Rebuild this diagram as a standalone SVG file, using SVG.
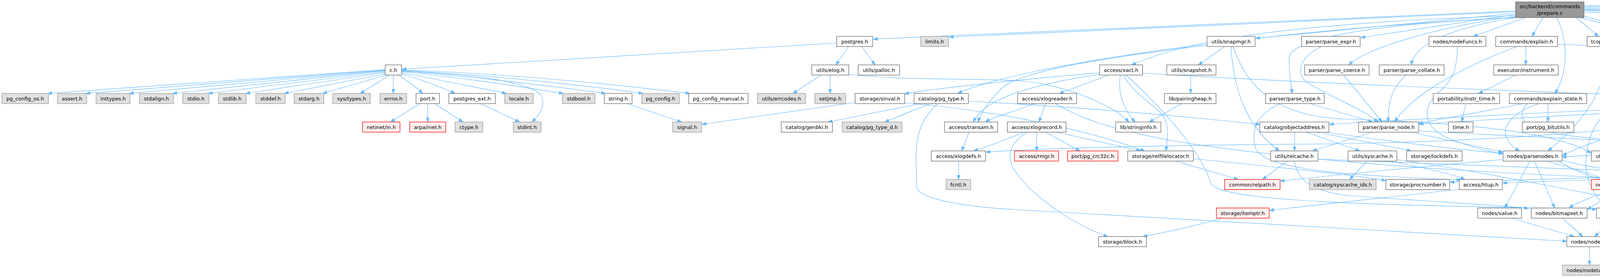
<svg xmlns="http://www.w3.org/2000/svg" width="6271" height="711" viewBox="0 0 6271 711">
<defs>
<style>
rect.w{fill:#ffffff;stroke:#666666;stroke-width:1.3}
rect.g{fill:#e0e0e0;stroke:#999999;stroke-width:1.3}
rect.r{fill:#fff0f0;stroke:#ff0000;stroke-width:1.3}
rect.root{fill:#999999;stroke:#666666;stroke-width:1.3}
text{font-family:"DejaVu Sans","Liberation Sans",sans-serif;font-size:13px;fill:#000000;text-anchor:middle}
#edges path{fill:none;stroke:#63b8ff;stroke-width:1.2;marker-end:url(#arr)}
</style>
<marker id="arr" markerUnits="userSpaceOnUse" markerWidth="12" markerHeight="10" refX="11" refY="4.5" orient="auto">
<path d="M0,0.5 L11,4.5 L0,8.5 z" fill="#63b8ff" stroke="#63b8ff" stroke-width="1"/>
</marker>
</defs>
<rect x="0" y="0" width="6271" height="711" fill="#ffffff"/>
<g id="edges">
<path d="M986,178 L122,239"/>
<path d="M986,179 L220,239"/>
<path d="M986,180 L331,239"/>
<path d="M986,181 L442,239"/>
<path d="M987,183 L533,239"/>
<path d="M988,185 L629,239"/>
<path d="M990,188 L728,239"/>
<path d="M993,191 L826,239"/>
<path d="M998,192 L922,239"/>
<path d="M1007,192 L1007,239"/>
<path d="M1020,192 C1040,205 1065,222 1082,239"/>
<path d="M1028,188 C1080,205 1130,222 1165,239"/>
<path d="M1028,185 C1120,205 1230,225 1296,239"/>
<path d="M1028,182 C1200,190 1340,205 1382,240 C1400,265 1385,290 1362,312"/>
<path d="M1028,183 C1200,200 1350,225 1442,239"/>
<path d="M1028,181 C1250,200 1450,225 1550,239"/>
<path d="M1028,180 C1300,195 1550,225 1646,239"/>
<path d="M1028,179 C1350,190 1650,225 1766,239"/>
<path d="M2142,110 L1029,177"/>
<path d="M2172,119 L2140,166"/>
<path d="M2206,119 L2240,166"/>
<path d="M1075,265 L1000,312"/>
<path d="M1095,265 L1095,312"/>
<path d="M1113,265 L1185,312"/>
<path d="M1230,265 L1330,312"/>
<path d="M1605,265 L1745,312"/>
<path d="M2125,192 L2125,239"/>
<path d="M2102,192 L2030,239"/>
<path d="M2173,190 C2300,205 2450,200 2600,206 C2700,210 2840,260 2890,312"/>
<path d="M2189,262 L1797,318"/>
<path d="M2316,263 C2500,278 2750,320 2930,386"/>
<path d="M2355,265 L2120,312"/>
<path d="M2381,265 L2265,312"/>
<path d="M2479,259 C2800,275 3100,305 3225,318"/>
<path d="M2400,265 C2330,330 2347,400 2347,478 C2347,505 2450,528 2600,536 L4011,617"/>
<path d="M3880,28 L2236,100"/>
<path d="M3880,30 L2430,95"/>
<path d="M3880,34 L3214,98"/>
<path d="M3880,37 L3484,96"/>
<path d="M3905,45 L3772,93"/>
<path d="M3950,45 L3922,93"/>
<path d="M4035,45 C4055,62 4075,78 4092,93"/>
<path d="M4055,41 L4240,93"/>
<path d="M4055,30 L5018,102"/>
<path d="M4055,26 L5148,94"/>
<path d="M4055,23 L5304,93"/>
<path d="M4055,20 L5748,102"/>
<path d="M4055,17 C5000,40 5700,70 5810,90 C5880,110 5920,140 5937,166"/>
<path d="M4055,14 C5200,35 5900,70 6000,100 C6090,140 6120,220 6131,312"/>
<path d="M3880,40 C3300,60 3050,100 2897,166"/>
<path d="M3880,42 C3700,65 3500,120 3453,166"/>
<path d="M3882,45 C3690,75 3620,120 3613,166"/>
<path d="M3880,44 C3200,80 2600,170 2452,239"/>
<path d="M3880,45 C3500,62 3300,100 3300,150 C3300,185 3305,215 3308,239"/>
<path d="M3985,45 C4015,100 4015,190 3980,239"/>
<path d="M4055,25 C4300,30 4440,60 4445,166"/>
<path d="M4045,45 C4300,110 4600,170 4740,239"/>
<path d="M3906,119 L3906,166"/>
<path d="M3882,119 C3700,190 3600,260 3571,312"/>
<path d="M3987,113 C4300,125 4700,160 4877,173"/>
<path d="M3880,192 L3785,239"/>
<path d="M3752,265 L3742,312"/>
<path d="M3963,265 L3963,312"/>
<path d="M3900,265 C3800,285 3680,305 3632,316"/>
<path d="M3940,265 C3860,290 3820,345 3890,386"/>
<path d="M3910,265 C3860,320 3950,345 4100,355 C4300,365 4460,372 4500,386"/>
<path d="M3382,119 C3330,145 3315,185 3345,210 C3400,245 3490,280 3528,312"/>
<path d="M3440,192 L3538,312"/>
<path d="M3600,192 C3560,225 3553,270 3554,312"/>
<path d="M3731,119 C3730,185 3715,205 3690,230 C3640,270 3640,320 3700,350 C3760,375 3810,388 3848,393"/>
<path d="M3135,119 L3068,166"/>
<path d="M3090,116 C2800,150 2600,185 2560,230 C2530,262 2510,290 2504,312"/>
<path d="M3151,119 C3160,250 3200,330 3275,386"/>
<path d="M3157,119 C3200,250 3300,300 3450,305 C3800,315 4000,345 4074,392"/>
<path d="M3048,192 L3048,239"/>
<path d="M3025,265 L2942,312"/>
<path d="M2838,192 L2712,239"/>
<path d="M2868,192 C2860,240 2880,285 2906,312"/>
<path d="M2876,192 C2900,240 2960,270 2980,300 C2995,330 2987,360 2985,386"/>
<path d="M2883,192 C3000,300 3080,400 3100,470 C3130,520 3600,525 4087,535"/>
<path d="M2815,186 C2600,205 2400,225 2316,240"/>
<path d="M2815,190 C2650,215 2520,250 2492,312"/>
<path d="M2925,187 C3300,210 3900,235 4340,248"/>
<path d="M2676,265 L2660,312"/>
<path d="M2647,265 C2600,285 2540,300 2523,312"/>
<path d="M2701,265 C2780,310 2850,330 3000,360 C3500,440 4200,460 4591,468"/>
<path d="M2654,338 L2654,386"/>
<path d="M2677,338 L2765,386"/>
<path d="M2705,338 L2920,386"/>
<path d="M2622,338 C2580,355 2530,375 2492,386"/>
<path d="M2631,338 C2590,360 2570,400 2600,440 C2650,510 2760,580 2836,605"/>
<path d="M2481,338 L2462,386"/>
<path d="M2454,412 L2454,459"/>
<path d="M4877,190 C4600,300 4000,360 3400,368 C2900,372 2650,380 2524,389"/>
<path d="M3010,412 L3170,459"/>
<path d="M3055,406 C3300,430 3480,450 3548,462"/>
<path d="M3295,412 L3232,459"/>
<path d="M3314,412 C3320,460 3360,490 3450,500 C3650,515 3850,525 3913,533"/>
<path d="M3374,407 C3800,425 4400,445 4735,459"/>
<path d="M3314,338 L3314,386"/>
<path d="M3372,338 L3613,386"/>
<path d="M3391,338 C3550,360 3750,385 3847,392"/>
<path d="M3344,338 L3481,386"/>
<path d="M3354,265 L3514,312"/>
<path d="M3277,265 C3220,290 3200,330 3215,380 C3240,440 3500,450 3740,460"/>
<path d="M3514,338 L3360,386"/>
<path d="M3613,338 L3847,389"/>
<path d="M3632,335 C4000,355 4500,375 4698,392"/>
<path d="M3500,412 L3455,459"/>
<path d="M3557,412 C3650,430 3720,445 3750,459"/>
<path d="M3576,408 C3800,440 4100,500 4240,532"/>
<path d="M3917,412 L3852,532"/>
<path d="M3928,412 L3980,532"/>
<path d="M3848,408 C3600,430 3400,450 3277,463"/>
<path d="M3960,412 C4020,430 4080,445 4107,459"/>
<path d="M3999,410 C4100,440 4300,448 4350,459"/>
<path d="M3990,412 C4100,480 4350,520 4450,532"/>
<path d="M3870,558 L4030,605"/>
<path d="M4000,558 L4052,605"/>
<path d="M4069,631 L4069,678"/>
<path d="M3736,484 L3250,538"/>
<path d="M3131,558 C3050,580 2980,595 2926,605"/>
<path d="M4143,119 L4239,166"/>
<path d="M4117,119 C4110,250 4040,320 3963,386"/>
<path d="M4277,119 C4200,200 4100,280 4075,340 C4045,420 4060,480 4113,532"/>
<path d="M4296,192 L4395,239"/>
<path d="M4268,192 C4268,250 4300,290 4355,312"/>
<path d="M4262,192 C4258,280 4240,340 4180,386"/>
<path d="M4440,192 L4428,239"/>
<path d="M4470,192 C4520,225 4490,285 4456,312"/>
<path d="M4770,265 L4788,386"/>
<path d="M4684,258 C4300,270 3700,300 3403,318"/>
<path d="M4684,262 C4300,280 3800,305 3633,318"/>
<path d="M4818,265 L5073,312"/>
<path d="M4790,265 C4850,320 4920,360 4941,386"/>
<path d="M4952,192 L4952,239"/>
<path d="M5026,185 L5425,241"/>
<path d="M5012,192 C5300,240 5600,280 5700,320 C5740,340 5760,362 5779,386"/>
<path d="M4877,186 C4700,210 4600,235 4506,243"/>
<path d="M5878,184 C5400,205 4800,235 4506,248"/>
<path d="M4877,192 C4500,250 4100,340 4000,398"/>
<path d="M5000,192 C5100,350 5000,520 4582,543"/>
<path d="M5097,119 L5205,166"/>
<path d="M5120,117 C5400,170 5560,200 5568,250 C5570,290 5300,340 5170,386"/>
<path d="M5267,119 C5500,170 5590,220 5580,260 C5570,300 5530,340 5516,386"/>
<path d="M5233,192 L5212,239"/>
<path d="M5250,192 C5262,260 5230,330 5032,388"/>
<path d="M5270,192 C5310,250 5310,330 5300,386"/>
<path d="M5217,192 C5000,270 4750,340 4620,388"/>
<path d="M5190,265 L5142,312"/>
<path d="M5245,262 L5510,314"/>
<path d="M5201,265 C5200,320 5180,340 5100,348 C4700,370 4200,385 3999,402"/>
<path d="M4985,265 L5090,312"/>
<path d="M4899,265 C4800,285 4720,300 4690,312"/>
<path d="M5117,338 L5117,386"/>
<path d="M5164,335 L5388,386"/>
<path d="M5118,412 L5118,459"/>
<path d="M5452,412 L5452,459"/>
<path d="M5379,410 C5200,430 4950,455 4856,466"/>
<path d="M5379,406 C5000,430 4200,455 3847,468"/>
<path d="M5385,412 C5100,440 4800,458 4699,465"/>
<path d="M5200,410 C4800,440 4000,455 3712,466"/>
<path d="M4790,412 L4790,459"/>
<path d="M4615,338 L4572,386"/>
<path d="M4632,338 C4640,380 4645,420 4645,459"/>
<path d="M4580,338 L4353,392"/>
<path d="M4612,338 C4550,380 4430,420 4390,459"/>
<path d="M4584,338 C4450,390 4280,420 4216,460"/>
<path d="M4703,335 C4800,350 4880,370 4912,386"/>
<path d="M4546,412 C4540,460 4520,500 4510,532"/>
<path d="M4541,412 C4500,480 4350,510 4250,532"/>
<path d="M4480,408 C4200,440 4120,500 4063,536"/>
<path d="M4147,485 L4147,532"/>
<path d="M4171,485 L4262,532"/>
<path d="M4205,485 L4452,532"/>
<path d="M4120,485 C4080,505 4040,515 4017,532"/>
<path d="M4722,482 L4362,540"/>
<path d="M4722,478 L4208,536"/>
<path d="M4133,558 L4082,605"/>
<path d="M5086,553 L4127,616"/>
<path d="M5530,265 C5620,310 5600,420 5520,500 C5420,525 5300,535 5238,542"/>
<path d="M6085,338 L5832,396"/>
<path d="M6147,338 L6186,386"/>
<path d="M6126,338 C6080,400 5980,450 5850,465 C5500,480 4700,560 4127,621"/>
<path d="M5795,119 C5815,200 5810,300 5797,386"/>
<path d="M5748,111 L5028,172"/>
<path d="M5783,119 C5700,230 5600,300 5500,340 C5470,355 5460,370 5458,386"/>
<path d="M5831,116 C5980,150 6060,200 6050,260 C6030,340 5900,410 5830,413 C5500,430 5000,455 4856,470"/>
<path d="M5960,192 L5970,239"/>
<path d="M5941,192 C5900,260 5860,330 5814,386"/>
<path d="M5590,338 L5767,395"/>
<path d="M4390,338 L4330,386"/>
<path d="M4362,338 L4183,386"/>
<path d="M4470,335 L4688,388"/>
<path d="M4470,332 C4700,350 4850,370 4895,386"/>
<path d="M4470,336 C4800,360 5000,375 5065,390"/>
<path d="M4343,338 C4250,390 4290,440 4375,459"/>
</g>
<g id="n_root"><rect class="root" x="3880" y="5" width="175" height="40"/><text x="3967.5" y="21">src/backend/commands</text><text x="3967.5" y="38">/prepare.c</text></g>
<g id="n_postgres"><rect class="w" x="2142" y="93" width="92" height="26"/><text x="2188" y="110.5">postgres.h</text></g>
<g id="n_limits"><rect class="g" x="2357" y="93" width="71" height="26"/><text x="2392.5" y="110.5">limits.h</text></g>
<g id="n_snapmgr"><rect class="w" x="3090" y="93" width="123" height="26"/><text x="3151.5" y="110.5">utils/snapmgr.h</text></g>
<g id="n_parse_expr"><rect class="w" x="3332" y="93" width="150" height="26"/><text x="3407" y="110.5">parser/parse_expr.h</text></g>
<g id="n_nodeFuncs"><rect class="w" x="3658" y="93" width="146" height="26"/><text x="3731" y="110.5">nodes/nodeFuncs.h</text></g>
<g id="n_explain"><rect class="w" x="3829" y="93" width="158" height="26"/><text x="3908" y="110.5">commands/explain.h</text></g>
<g id="n_pquery"><rect class="w" x="4063" y="93" width="109" height="26"/><text x="4117.5" y="110.5">tcop/pquery.h</text></g>
<g id="n_explain_format"><rect class="w" x="4197" y="93" width="209" height="26"/><text x="4301.5" y="110.5">commands/explain_format.h</text></g>
<g id="n_utility"><rect class="w" x="5018" y="93" width="103" height="26"/><text x="5069.5" y="110.5">tcop/utility.h</text></g>
<g id="n_tuplestore"><rect class="w" x="5145" y="93" width="132" height="26"/><text x="5211" y="110.5">utils/tuplestore.h</text></g>
<g id="n_hsearch"><rect class="w" x="5302" y="93" width="117" height="26"/><text x="5360.5" y="110.5">utils/hsearch.h</text></g>
<g id="n_funcapi"><rect class="w" x="5748" y="93" width="83" height="26"/><text x="5789.5" y="110.5">funcapi.h</text></g>
<g id="n_c"><rect class="w" x="986" y="166" width="42" height="26"/><text x="1007" y="183.5">c.h</text></g>
<g id="n_elog"><rect class="w" x="2078" y="166" width="95" height="26"/><text x="2125.5" y="183.5">utils/elog.h</text></g>
<g id="n_palloc"><rect class="w" x="2197" y="166" width="106" height="26"/><text x="2250" y="183.5">utils/palloc.h</text></g>
<g id="n_xact"><rect class="w" x="2815" y="166" width="110" height="26"/><text x="2870" y="183.5">access/xact.h</text></g>
<g id="n_snapshot"><rect class="w" x="2987" y="166" width="126" height="26"/><text x="3050" y="183.5">utils/snapshot.h</text></g>
<g id="n_parse_coerce"><rect class="w" x="3340" y="166" width="165" height="26"/><text x="3422.5" y="183.5">parser/parse_coerce.h</text></g>
<g id="n_parse_collate"><rect class="w" x="3531" y="166" width="166" height="26"/><text x="3614" y="183.5">parser/parse_collate.h</text></g>
<g id="n_instrument"><rect class="w" x="3824" y="166" width="165" height="26"/><text x="3906.5" y="183.5">executor/instrument.h</text></g>
<g id="n_portal"><rect class="w" x="4218" y="166" width="104" height="26"/><text x="4270" y="183.5">utils/portal.h</text></g>
<g id="n_prepare_h"><rect class="w" x="4364" y="166" width="160" height="26"/><text x="4444" y="183.5">commands/prepare.h</text></g>
<g id="n_executor"><rect class="w" x="4877" y="166" width="149" height="26"/><text x="4951.5" y="183.5">executor/executor.h</text></g>
<g id="n_tcopprot"><rect class="w" x="5182" y="166" width="120" height="26"/><text x="5242" y="183.5">tcop/tcopprot.h</text></g>
<g id="n_utils_timestamp"><rect class="w" x="5878" y="166" width="138" height="26"/><text x="5947" y="183.5">utils/timestamp.h</text></g>
<g id="n_pg_config_os"><rect class="g" x="5" y="239" width="119" height="26"/><text x="64.5" y="256.5">pg_config_os.h</text></g>
<g id="n_assert"><rect class="g" x="147" y="239" width="75" height="26"/><text x="184.5" y="256.5">assert.h</text></g>
<g id="n_inttypes"><rect class="g" x="246" y="239" width="87" height="26"/><text x="289.5" y="256.5">inttypes.h</text></g>
<g id="n_stdalign"><rect class="g" x="357" y="239" width="87" height="26"/><text x="400.5" y="256.5">stdalign.h</text></g>
<g id="n_stdio"><rect class="g" x="468" y="239" width="67" height="26"/><text x="501.5" y="256.5">stdio.h</text></g>
<g id="n_stdlib"><rect class="g" x="559" y="239" width="71" height="26"/><text x="594.5" y="256.5">stdlib.h</text></g>
<g id="n_stddef"><rect class="g" x="655" y="239" width="75" height="26"/><text x="692.5" y="256.5">stddef.h</text></g>
<g id="n_stdarg"><rect class="g" x="753" y="239" width="76" height="26"/><text x="791" y="256.5">stdarg.h</text></g>
<g id="n_systypes"><rect class="g" x="852" y="239" width="96" height="26"/><text x="900" y="256.5">sys/types.h</text></g>
<g id="n_errno"><rect class="g" x="973" y="239" width="68" height="26"/><text x="1007" y="256.5">errno.h</text></g>
<g id="n_port"><rect class="w" x="1065" y="239" width="60" height="26"/><text x="1095" y="256.5">port.h</text></g>
<g id="n_postgres_ext"><rect class="w" x="1149" y="239" width="119" height="26"/><text x="1208.5" y="256.5">postgres_ext.h</text></g>
<g id="n_locale"><rect class="g" x="1292" y="239" width="73" height="26"/><text x="1328.5" y="256.5">locale.h</text></g>
<g id="n_stdbool"><rect class="g" x="1440" y="239" width="83" height="26"/><text x="1481.5" y="256.5">stdbool.h</text></g>
<g id="n_string"><rect class="w" x="1547" y="239" width="71" height="26"/><text x="1582.5" y="256.5">string.h</text></g>
<g id="n_pg_config"><rect class="g" x="1643" y="239" width="96" height="26"/><text x="1691" y="256.5">pg_config.h</text></g>
<g id="n_pg_config_manual"><rect class="w" x="1763" y="239" width="152" height="26"/><text x="1839" y="256.5">pg_config_manual.h</text></g>
<g id="n_errcodes"><rect class="g" x="1939" y="239" width="123" height="26"/><text x="2000.5" y="256.5">utils/errcodes.h</text></g>
<g id="n_setjmp"><rect class="g" x="2086" y="239" width="79" height="26"/><text x="2125.5" y="256.5">setjmp.h</text></g>
<g id="n_sinval"><rect class="w" x="2189" y="239" width="127" height="26"/><text x="2252.5" y="256.5">storage/sinval.h</text></g>
<g id="n_pg_type"><rect class="w" x="2340" y="239" width="139" height="26"/><text x="2409.5" y="256.5">catalog/pg_type.h</text></g>
<g id="n_xlogreader"><rect class="w" x="2605" y="239" width="151" height="26"/><text x="2680.5" y="256.5">access/xlogreader.h</text></g>
<g id="n_pairingheap"><rect class="w" x="2981" y="239" width="132" height="26"/><text x="3047" y="256.5">lib/pairingheap.h</text></g>
<g id="n_parse_type"><rect class="w" x="3240" y="239" width="150" height="26"/><text x="3315" y="256.5">parser/parse_type.h</text></g>
<g id="n_instr_time"><rect class="w" x="3669" y="239" width="170" height="26"/><text x="3754" y="256.5">portability/instr_time.h</text></g>
<g id="n_explain_state"><rect class="w" x="3864" y="239" width="198" height="26"/><text x="3963" y="256.5">commands/explain_state.h</text></g>
<g id="n_dt_timestamp"><rect class="w" x="4340" y="239" width="166" height="26"/><text x="4423" y="256.5">datatype/timestamp.h</text></g>
<g id="n_createas"><rect class="w" x="4684" y="239" width="166" height="26"/><text x="4767" y="256.5">commands/createas.h</text></g>
<g id="n_execdesc"><rect class="w" x="4875" y="239" width="155" height="26"/><text x="4952.5" y="256.5">executor/execdesc.h</text></g>
<g id="n_guc"><rect class="w" x="5156" y="239" width="89" height="26"/><text x="5200.5" y="256.5">utils/guc.h</text></g>
<g id="n_memutils"><rect class="w" x="5422" y="239" width="128" height="26"/><text x="5486" y="256.5">utils/memutils.h</text></g>
<g id="n_pgtime"><rect class="w" x="5929" y="239" width="80" height="26"/><text x="5969" y="256.5">pgtime.h</text></g>
<g id="n_netinet"><rect class="r" x="928" y="312" width="96" height="26"/><text x="976" y="329.5">netinet/in.h</text></g>
<g id="n_arpa"><rect class="r" x="1049" y="312" width="92" height="26"/><text x="1095" y="329.5">arpa/inet.h</text></g>
<g id="n_ctype"><rect class="g" x="1165" y="312" width="71" height="26"/><text x="1200.5" y="329.5">ctype.h</text></g>
<g id="n_stdint"><rect class="g" x="1314" y="312" width="71" height="26"/><text x="1349.5" y="329.5">stdint.h</text></g>
<g id="n_signal"><rect class="g" x="1722" y="312" width="74" height="26"/><text x="1759" y="329.5">signal.h</text></g>
<g id="n_genbki"><rect class="w" x="2000" y="312" width="131" height="26"/><text x="2065.5" y="329.5">catalog/genbki.h</text></g>
<g id="n_pg_type_d"><rect class="g" x="2156" y="312" width="153" height="26"/><text x="2232.5" y="329.5">catalog/pg_type_d.h</text></g>
<g id="n_transam"><rect class="w" x="2418" y="312" width="136" height="26"/><text x="2486" y="329.5">access/transam.h</text></g>
<g id="n_xlogrecord"><rect class="w" x="2579" y="312" width="150" height="26"/><text x="2654" y="329.5">access/xlogrecord.h</text></g>
<g id="n_stringinfo"><rect class="w" x="2856" y="312" width="116" height="26"/><text x="2914" y="329.5">lib/stringinfo.h</text></g>
<g id="n_objectaddress"><rect class="w" x="3225" y="312" width="177" height="26"/><text x="3313.5" y="329.5">catalog/objectaddress.h</text></g>
<g id="n_parse_node"><rect class="w" x="3478" y="312" width="154" height="26"/><text x="3555" y="329.5">parser/parse_node.h</text></g>
<g id="n_time"><rect class="w" x="3708" y="312" width="63" height="26"/><text x="3739.5" y="329.5">time.h</text></g>
<g id="n_pg_bitutils"><rect class="w" x="3897" y="312" width="132" height="26"/><text x="3963" y="329.5">port/pg_bitutils.h</text></g>
<g id="n_plancache"><rect class="w" x="4338" y="312" width="132" height="26"/><text x="4404" y="329.5">utils/plancache.h</text></g>
<g id="n_execnodes"><rect class="r" x="4557" y="312" width="146" height="26"/><text x="4630" y="329.5">nodes/execnodes.h</text></g>
<g id="n_dest"><rect class="w" x="5069" y="312" width="95" height="26"/><text x="5116.5" y="329.5">tcop/dest.h</text></g>
<g id="n_array"><rect class="r" x="5502" y="312" width="99" height="26"/><text x="5551.5" y="329.5">utils/array.h</text></g>
<g id="n_builtins"><rect class="w" x="6077" y="312" width="115" height="26"/><text x="6134.5" y="329.5">utils/builtins.h</text></g>
<g id="n_xlogdefs"><rect class="w" x="2384" y="386" width="139" height="26"/><text x="2453.5" y="403.5">access/xlogdefs.h</text></g>
<g id="n_rmgr"><rect class="r" x="2597" y="386" width="113" height="26"/><text x="2653.5" y="403.5">access/rmgr.h</text></g>
<g id="n_crc32c"><rect class="r" x="2733" y="386" width="129" height="26"/><text x="2797.5" y="403.5">port/pg_crc32c.h</text></g>
<g id="n_relfilelocator"><rect class="w" x="2887" y="386" width="168" height="26"/><text x="2971" y="403.5">storage/relfilelocator.h</text></g>
<g id="n_relcache"><rect class="w" x="3253" y="386" width="121" height="26"/><text x="3313.5" y="403.5">utils/relcache.h</text></g>
<g id="n_syscache"><rect class="w" x="3451" y="386" width="125" height="26"/><text x="3513.5" y="403.5">utils/syscache.h</text></g>
<g id="n_lockdefs"><rect class="w" x="3601" y="386" width="142" height="26"/><text x="3672" y="403.5">storage/lockdefs.h</text></g>
<g id="n_parsenodes"><rect class="w" x="3848" y="386" width="151" height="26"/><text x="3923.5" y="403.5">nodes/parsenodes.h</text></g>
<g id="n_resowner"><rect class="w" x="4074" y="386" width="125" height="26"/><text x="4136.5" y="403.5">utils/resowner.h</text></g>
<g id="n_ilist"><rect class="w" x="4275" y="386" width="78" height="26"/><text x="4314" y="403.5">lib/ilist.h</text></g>
<g id="n_plannodes"><rect class="r" x="4480" y="386" width="143" height="26"/><text x="4551.5" y="403.5">nodes/plannodes.h</text></g>
<g id="n_queryenv"><rect class="w" x="4698" y="386" width="186" height="26"/><text x="4791" y="403.5">utils/queryenvironment.h</text></g>
<g id="n_params"><rect class="w" x="4909" y="386" width="127" height="26"/><text x="4972.5" y="403.5">nodes/params.h</text></g>
<g id="n_cmdtag"><rect class="w" x="5060" y="386" width="115" height="26"/><text x="5117.5" y="403.5">tcop/cmdtag.h</text></g>
<g id="n_procsignal"><rect class="w" x="5200" y="386" width="154" height="26"/><text x="5277" y="403.5">storage/procsignal.h</text></g>
<g id="n_tuptable"><rect class="w" x="5379" y="386" width="148" height="26"/><text x="5453" y="403.5">executor/tuptable.h</text></g>
<g id="n_fmgr"><rect class="w" x="5767" y="386" width="64" height="26"/><text x="5799" y="403.5">fmgr.h</text></g>
<g id="n_fmgrprotos"><rect class="g" x="6127" y="386" width="139" height="26"/><text x="6196.5" y="403.5">utils/fmgrprotos.h</text></g>
<g id="n_fcntl"><rect class="g" x="2422" y="459" width="63" height="26"/><text x="2453.5" y="476.5">fcntl.h</text></g>
<g id="n_relpath"><rect class="r" x="3135" y="459" width="142" height="26"/><text x="3206" y="476.5">common/relpath.h</text></g>
<g id="n_syscache_ids"><rect class="g" x="3352" y="459" width="171" height="26"/><text x="3437.5" y="476.5">catalog/syscache_ids.h</text></g>
<g id="n_procnumber"><rect class="w" x="3548" y="459" width="163" height="26"/><text x="3629.5" y="476.5">storage/procnumber.h</text></g>
<g id="n_htup"><rect class="w" x="3736" y="459" width="110" height="26"/><text x="3791" y="476.5">access/htup.h</text></g>
<g id="n_primnodes"><rect class="r" x="4074" y="459" width="146" height="26"/><text x="4147" y="476.5">nodes/primnodes.h</text></g>
<g id="n_partdefs"><rect class="w" x="4296" y="459" width="166" height="26"/><text x="4379" y="476.5">partitioning/partdefs.h</text></g>
<g id="n_buf"><rect class="w" x="4591" y="459" width="107" height="26"/><text x="4644.5" y="476.5">storage/buf.h</text></g>
<g id="n_tupdesc"><rect class="r" x="4722" y="459" width="133" height="26"/><text x="4788.5" y="476.5">access/tupdesc.h</text></g>
<g id="n_cmdtaglist"><rect class="w" x="5051" y="459" width="134" height="26"/><text x="5118" y="476.5">tcop/cmdtaglist.h</text></g>
<g id="n_sysattr"><rect class="w" x="5389" y="459" width="126" height="26"/><text x="5452" y="476.5">access/sysattr.h</text></g>
<g id="n_itemptr"><rect class="r" x="3114" y="532" width="135" height="26"/><text x="3181.5" y="549.5">storage/itemptr.h</text></g>
<g id="n_value"><rect class="w" x="3783" y="532" width="112" height="26"/><text x="3839" y="549.5">nodes/value.h</text></g>
<g id="n_bitmapset"><rect class="w" x="3920" y="532" width="143" height="26"/><text x="3991.5" y="549.5">nodes/bitmapset.h</text></g>
<g id="n_pg_list"><rect class="w" x="4087" y="532" width="120" height="26"/><text x="4147" y="549.5">nodes/pg_list.h</text></g>
<g id="n_attnum"><rect class="w" x="4232" y="532" width="129" height="26"/><text x="4296.5" y="549.5">access/attnum.h</text></g>
<g id="n_lockoptions"><rect class="w" x="4430" y="532" width="151" height="26"/><text x="4505.5" y="549.5">nodes/lockoptions.h</text></g>
<g id="n_memnodes"><rect class="w" x="5086" y="532" width="151" height="26"/><text x="5161.5" y="549.5">nodes/memnodes.h</text></g>
<g id="n_block"><rect class="w" x="2812" y="605" width="123" height="26"/><text x="2873.5" y="622.5">storage/block.h</text></g>
<g id="n_nodes"><rect class="w" x="4011" y="605" width="116" height="26"/><text x="4069" y="622.5">nodes/nodes.h</text></g>
<g id="n_nodetags"><rect class="g" x="4000" y="678" width="137" height="26"/><text x="4068.5" y="695.5">nodes/nodetags.h</text></g>
</svg>
